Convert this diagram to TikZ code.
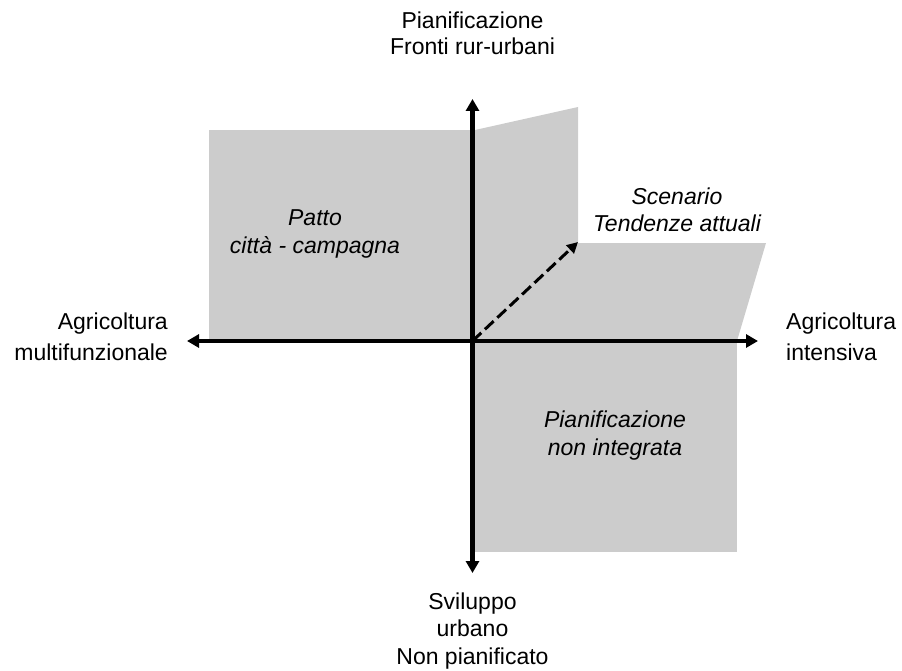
\documentclass[tikz,border=0pt]{standalone}
\usepackage{fontspec}
\setmainfont{Liberation Sans}
\usetikzlibrary{arrows.meta}
\definecolor{areagray}{HTML}{CCCCCC}
\tikzset{
  axis/.style={line width=4.5pt,-{Triangle[length=12pt,width=13pt]}},
  trend/.style={line width=3pt,dash pattern=on 12pt off 5pt,-{Triangle[length=11pt,width=11pt]}},
  lbl/.style={inner sep=0pt,font=\fontsize{23}{27}\selectfont},
  ital/.style={lbl,font=\fontsize{23}{28}\selectfont\itshape,align=center},
  area/.style={fill=areagray,draw=none}
}
\begin{document}
\begin{tikzpicture}[x=1pt,y=-1pt]
\useasboundingbox (0,0) rectangle (902,671);
% gray areas
\fill[area] (209,130) rectangle (472.5,341);
\fill[area] (472.5,130) -- (475,130) -- (578,107) -- (578,243) -- (766,243) -- (737,341) -- (472.5,341) -- cycle;
\fill[area] (472.5,341) rectangle (737,552);
% axis end points
\coordinate (o) at (472.5,341);
\coordinate (top) at (472.5,99);
\coordinate (bot) at (472.5,573);
\coordinate (lft) at (187,341);
\coordinate (rgt) at (758,341);
\coordinate (sc) at (578,242);
% axes
\draw[axis] (o) -- (top);
\draw[axis] (o) -- (bot);
\draw[axis] (o) -- (lft);
\draw[axis] (o) -- (rgt);
\draw[trend] (o) -- (sc);
% labels (base anchor = baseline of last line)
\node[lbl,anchor=base,align=center,font=\fontsize{23}{26}\selectfont] (tl) at (472.5,55) {Pianificazione\\Fronti rur-urbani};
\node[lbl,anchor=base,align=center,font=\fontsize{23}{27.5}\selectfont] (bl) at (472.5,664) {Sviluppo\\urbano\\Non pianificato};
\node[lbl,anchor=base east,align=right,font=\fontsize{23}{31}\selectfont] (ll) at (168,360) {Agricoltura\\multifunzionale};
\node[lbl,anchor=base west,align=left,font=\fontsize{23}{31}\selectfont] (rl) at (786,360) {Agricoltura\\intensiva};
\node[ital,anchor=base] (q1) at (315,253) {Patto\\città - campagna};
\node[ital,anchor=base] (q2) at (677,232) {Scenario\\Tendenze attuali};
\node[ital,anchor=base] (q3) at (615,455) {Pianificazione\\non integrata};
\end{tikzpicture}
\end{document}
